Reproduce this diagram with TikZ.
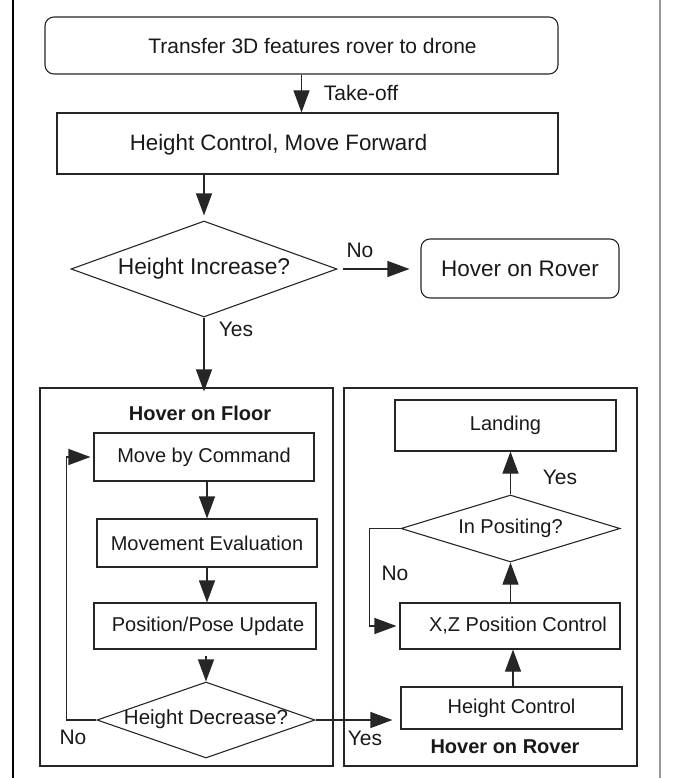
\documentclass[tikz,border=0pt]{standalone}
\usepackage{fontspec}
\setmainfont{Liberation Sans}
\usetikzlibrary{arrows.meta,shapes.geometric}
\begin{document}
\begin{tikzpicture}[x=1pt,y=-1pt,
  line/.style={draw=black!85, line width=1.1pt},
  box/.style={line, rectangle, inner sep=0pt, text=black!90},
  rbox/.style={box, rounded corners=9pt},
  dia/.style={line, diamond, inner sep=0pt},
  arr/.style={line, -{Triangle[length=22pt,width=16pt]}},
  big/.style={font=\fontsize{22.5}{26}\selectfont},
  small/.style={font=\fontsize{20}{24}\selectfont},
  lab/.style={font=\fontsize{21}{25}\selectfont, text=black!90, inner sep=0pt},
  ttl/.style={font=\fontsize{20}{24}\selectfont\bfseries, text=black!90, inner sep=0pt}]
\useasboundingbox (0,0) rectangle (673,778);
% page frame
\draw[black, line width=1.4pt] (13,0) -- (13,778);
\draw[black!40, line width=1.2pt] (660,0) -- (660,778);

% top part
\node[rbox, minimum width=513pt, minimum height=57pt,
      label={[lab, font=\fontsize{21}{25}\selectfont, xshift=11pt]center:Transfer 3D features rover to drone}] (top) at (301.5,45.5) {};
\node[box, minimum width=501pt, minimum height=61pt,
      label={[lab, font=\fontsize{22.3}{26}\selectfont, xshift=-29pt, yshift=-1pt]center:Height Control, Move Forward}] (hcmf) at (307.5,143.5) {};
\node[dia, minimum width=266pt, minimum height=96pt,
      label={[lab, font=\fontsize{22.8}{26}\selectfont]center:Height Increase?}] (hi) at (204,269) {};
\node[rbox, big, minimum width=198pt, minimum height=59pt] (hor) at (520,268.5) {Hover on Rover};

% containers
\node[box, minimum width=293pt, minimum height=378pt] (lc) at (186.5,577) {};
\node[box, minimum width=293pt, minimum height=378pt] (rc) at (490.5,577) {};
\node[ttl] (lct) at (200,413) {Hover on Floor};
\node[ttl] (rct) at (505,747) {Hover on Rover};

% left container
\node[box, small, minimum width=220pt, minimum height=48pt] (mbc) at (204,457) {Move by Command};
\node[box, small, minimum width=220pt, minimum height=48pt] (me) at (207,543) {Movement Evaluation};
\node[box, small, minimum width=222pt, minimum height=46pt,
      label={[lab, font=\fontsize{20}{24}\selectfont, xshift=3pt]center:Position/Pose Update}] (ppu) at (205,626) {};
\node[dia, minimum width=218pt, minimum height=76pt,
      label={[lab, font=\fontsize{20.5}{24}\selectfont, yshift=1pt]center:Height Decrease?}] (hd) at (206,720) {};

% right container
\node[box, small, minimum width=221pt, minimum height=51pt] (land) at (505.5,425.5) {Landing};
\node[dia, minimum width=219pt, minimum height=67pt,
      label={[lab, font=\fontsize{20}{24}\selectfont]center:In Positing?}] (ip) at (510.5,528.5) {};
\node[box, minimum width=220pt, minimum height=46pt,
      label={[lab, font=\fontsize{20}{24}\selectfont, xshift=8pt]center:X,Z Position Control}] (xz) at (510,626) {};
\node[box, small, minimum width=221pt, minimum height=42pt] (hc) at (511.5,708) {Height Control};

% connectors
\draw[arr] (top.south) -- (top.south |- hcmf.north);
\draw[arr, shorten >=5pt] (hcmf.south -| hi.north) -- (hi.north);
\draw[arr, shorten <=5pt, shorten >=11pt] (hi.east) -- (hi.east -| hor.west);
\draw[arr, shorten >=-4pt] (hi.south) -- (hi.south |- lc.north);

\draw[arr] (mbc.south -| me.north) -- (me.north);
\draw[arr] (me.south) -- (me.south |- ppu.north);
\draw[arr, shorten <=6pt] (ppu.south -| hd.north) -- (hd.north);
\draw[arr, shorten >=3pt] (hd.west) -- ++(-30,0) |- (mbc.west);
\draw[arr, shorten >=8pt] (hd.east) -- (hd.east -| hc.west);

\draw[arr] (hc.north -| 513,0) -- (xz.south -| 513,0);
\draw[arr] (xz.north -| ip.south) -- (ip.south);
\draw[arr] (ip.north) -- (ip.north |- land.south);
\draw[arr, shorten >=3pt] (ip.west) -- ++(-31,0) |- (xz.west);

% labels
\node[lab] (tko) at (361,93) {Take-off};
\node[lab] (no1) at (360,250) {No};
\node[lab] (yes1) at (236,329) {Yes};
\node[lab] (no2) at (73,737) {No};
\node[lab] (yes2) at (365,738) {Yes};
\node[lab] (no3) at (395,573) {No};
\node[lab] (yes3) at (560,477) {Yes};
\end{tikzpicture}
\end{document}
